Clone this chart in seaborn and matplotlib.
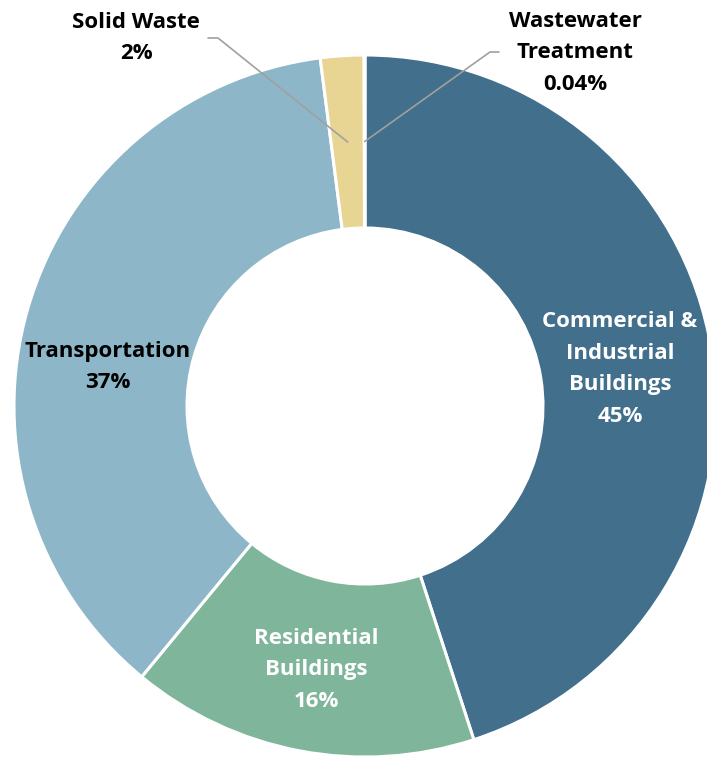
import numpy as np
import seaborn as sns
import matplotlib.pyplot as plt

# --- dados ---
sectors = ["Commercial &\nIndustrial\nBuildings", "Residential\nBuildings",
           "Transportation", "Solid Waste", "Wastewater\nTreatment"]
shares = [45, 16, 37, 2, 0.04]
share_labels = ["45%", "16%", "37%", "2%", "0.04%"]
colors = ["#416F8C", "#7FB59B", "#8DB6C8", "#E8D594", "#C9C9C9"]

sns.set_theme(style="white")
plt.rcParams['font.family'] = ['Open Sans', 'DejaVu Sans']

W, H = 707, 759
fig = plt.figure(figsize=(W / 100, H / 100), dpi=100)
ax = fig.add_axes([0, 0, 1, 1])

cx, cy = 365, H - 406
r_out, r_in = 351, 178

wedges, _ = ax.pie(shares, startangle=90, counterclock=False, radius=r_out,
                   center=(cx, cy), colors=colors, frame=True,
                   wedgeprops=dict(width=r_out - r_in, edgecolor="white", linewidth=2.2))
ax.set_xlim(0, W)
ax.set_ylim(0, H)
ax.set_aspect("equal")
ax.axis("off")

FS = 16
LS = 1.68

# rótulos internos (pixel coords a partir do topo)
inner = {0: (620, 369, "white"), 1: (316, 670, "white"), 2: (108, 367, "black")}
for i, (x, y, c) in inner.items():
    ax.text(x, H - y, sectors[i] + "\n" + share_labels[i], ha="center", va="center",
            color=c, fontsize=FS, fontweight="bold", linespacing=LS)

# rótulos externos com linhas de chamada
total = sum(shares)
cum = np.cumsum(shares) / total
r_mid = (r_out + r_in) / 2
outer = {3: ((136, 38), (208, 38), (218, 38)),
         4: ((575, 53), (499, 52), (490, 52))}
for i, (txt_xy, p0, knee) in outer.items():
    frac = cum[i] - shares[i] / total / 2
    ang = np.deg2rad(90 - frac * 360)
    px, py = cx + r_mid * np.cos(ang), cy + r_mid * np.sin(ang)
    ax.plot([p0[0], knee[0], px], [H - p0[1], H - knee[1], py],
            color="#A0A0A0", linewidth=1.2)
    ax.text(txt_xy[0], H - txt_xy[1], sectors[i] + "\n" + share_labels[i],
            ha="center", va="center", color="black", fontsize=FS,
            fontweight="bold", linespacing=LS)

fig.savefig("out.png", dpi=100)
